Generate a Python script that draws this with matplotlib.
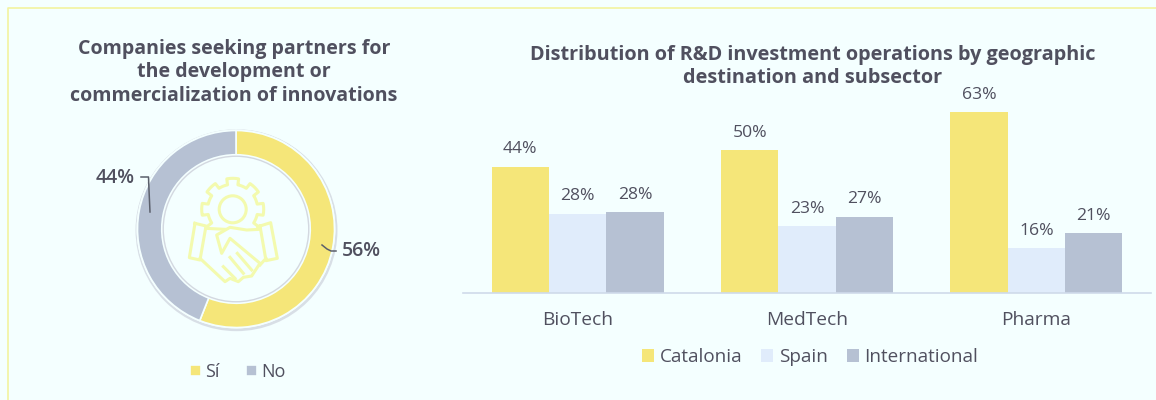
import matplotlib
matplotlib.use("Agg")
import matplotlib.pyplot as plt
from matplotlib.patches import Circle
import numpy as np

W, H = 1156, 400

BG = "#F4FFFF"
YELLOW = "#F5E679"
PALE = "#E0ECFB"
GREY = "#B6C1D3"
TEXT = "#50505F"
ICON = "#F3FAAE"

plt.rcParams["font.family"] = ["Open Sans", "DejaVu Sans"]

# donut data
donut_labels = ["Sí", "No"]
donut_values = [56, 44]
donut_title = "Companies seeking partners for\nthe development or\ncommercialization of innovations"

# bar data, heights, labels round them
categories = ["BioTech", "MedTech", "Pharma"]
catalonia = [44, 49.8, 63]
spain = [27.6, 23.3, 15.7]
international = [28.2, 26.6, 20.9]
bar_title = "Distribution of R&D investment operations by geographic\ndestination and subsector"


def px_axes(fig, left, top, width, height):
    return fig.add_axes([left / W, 1 - (top + height) / H, width / W, height / H])


fig = plt.figure(figsize=(W / 100, H / 100), dpi=100, facecolor=BG)

# overlay in pixels for the frame, leaders and the icon
ov = fig.add_axes([0, 0, 1, 1], zorder=5)
ov.set_xlim(0, W)
ov.set_ylim(H, 0)
ov.axis("off")
ov.plot([7.5, 7.5, W], [H, 7.5, 7.5], color="#F2F3A0", lw=1.2)

# donut
ax_d = px_axes(fig, 236 - 110, 229 - 110, 220, 220)
ax_d.add_patch(Circle((0.005, -0.012), 1.02, fc="#CDD2DC", ec="none", alpha=0.7, zorder=0))
ax_d.add_patch(Circle((0, 0), 1.005, fc="#F4FFFF", ec="none", zorder=0.2))
wedges, _ = ax_d.pie(donut_values, colors=[YELLOW, GREY], startangle=90, counterclock=False,
                     radius=0.995, wedgeprops=dict(width=0.245, edgecolor="#F4FFFF", linewidth=1.2))
ax_d.add_patch(Circle((0, 0), 0.735, fc="none", ec="#D3D8E0", lw=1.0, zorder=3))
ax_d.set_xlim(-110 / 99, 110 / 99)
ax_d.set_ylim(-110 / 99, 110 / 99)
ax_d.set_aspect("equal")

ov.text(234, 72.5, donut_title, ha="center", va="center", fontsize=14.1, fontweight="bold",
        color=TEXT, linespacing=1.25)

# donut labels and leaders
ov.plot([322, 327, 331, 336], [245, 249, 251, 251], color="#5A5F6B", lw=1.1)
ov.plot([150, 149, 148.5, 141], [212, 190, 177, 177], color="#5A5F6B", lw=1.1)
ov.text(342, 251, f"{donut_values[0]}%", ha="left", va="center", fontsize=14, fontweight="semibold", color=TEXT)
ov.text(135, 178, f"{donut_values[1]}%", ha="right", va="center", fontsize=14, fontweight="semibold", color=TEXT)

# handshake icon
gx, gy = 232.7, 209.3
ang = np.radians(np.arange(-35, 216, 1.0))
teeth = 25 + 6 * (np.cos(ang * 8) > 0)
ov.plot(gx + teeth * np.cos(ang), gy - teeth * np.sin(ang), color=ICON, lw=2.2)
ov.add_patch(Circle((gx, gy), 13.5, fc="none", ec=ICON, lw=2.2))
icon_lines = [
    [(45, 160), (78, 168), (60, 270), (28, 263), (45, 160)],
    [(240, 168), (272, 158), (292, 265), (258, 272), (240, 168)],
    [(78, 175), (135, 178)],
    [(240, 178), (200, 180), (150, 172), (110, 195), (125, 250), (150, 205), (240, 280), (215, 318),
     (190, 322), (175, 335), (150, 325), (135, 335), (60, 265)],
    [(240, 285), (258, 265)],
    [(130, 290), (165, 325)],
    [(150, 262), (190, 310)],
    [(172, 250), (215, 300)],
]
for pts in icon_lines:
    xs = [p[0] / 3 + 180 for p in pts]
    ys = [p[1] / 3 + 170 for p in pts]
    ov.plot(xs, ys, color=ICON, lw=2.2, solid_joinstyle="round")

# donut legend
fig.legend(handles=wedges, labels=donut_labels, loc="center", bbox_to_anchor=(238 / W, 1 - 372 / H),
           ncol=2, frameon=False, fontsize=13, labelcolor=TEXT, handlelength=0.6, handleheight=0.6,
           handletextpad=0.25, columnspacing=1.45)

# bars
ax_b = px_axes(fig, 463, 60, 688, 233)
x = np.arange(len(categories))
bw = 0.25
series = [("Catalonia", catalonia, YELLOW), ("Spain", spain, PALE), ("International", international, GREY)]
for i, (name, vals, col) in enumerate(series):
    bars = ax_b.bar(x + (i - 1) * bw, vals, bw, color=col, label=name)
    for r, v in zip(bars, vals):
        ax_b.text(r.get_x() + r.get_width() / 2, v + 6.0, f"{v:.0f}%", ha="center", va="center",
                  fontsize=12.6, color=TEXT)
ax_b.set_xlim(-0.5, 2.5)
ax_b.set_ylim(0, 233 / 2.873)
ax_b.set_xticks(x, categories)
ax_b.tick_params(axis="x", length=0, pad=13, labelsize=13.8, labelcolor=TEXT)
ax_b.set_yticks([])
ax_b.patch.set_alpha(0)
for s in ["top", "left", "right"]:
    ax_b.spines[s].set_visible(False)
ax_b.spines["bottom"].set_color("#CFDAEA")
ax_b.spines["bottom"].set_linewidth(1.2)

ov.text(813, 66.5, bar_title, ha="center", va="center", fontsize=14.3, fontweight="bold",
        color=TEXT, linespacing=1.25)

h, l = ax_b.get_legend_handles_labels()
fig.legend(h, l, loc="center", bbox_to_anchor=(810 / W, 1 - 357 / H), ncol=3, frameon=False,
           fontsize=13.6, labelcolor=TEXT, handlelength=0.65, handleheight=0.65, handletextpad=0.3,
           columnspacing=1.0)

fig.savefig("out.png", dpi=100, facecolor=BG)
